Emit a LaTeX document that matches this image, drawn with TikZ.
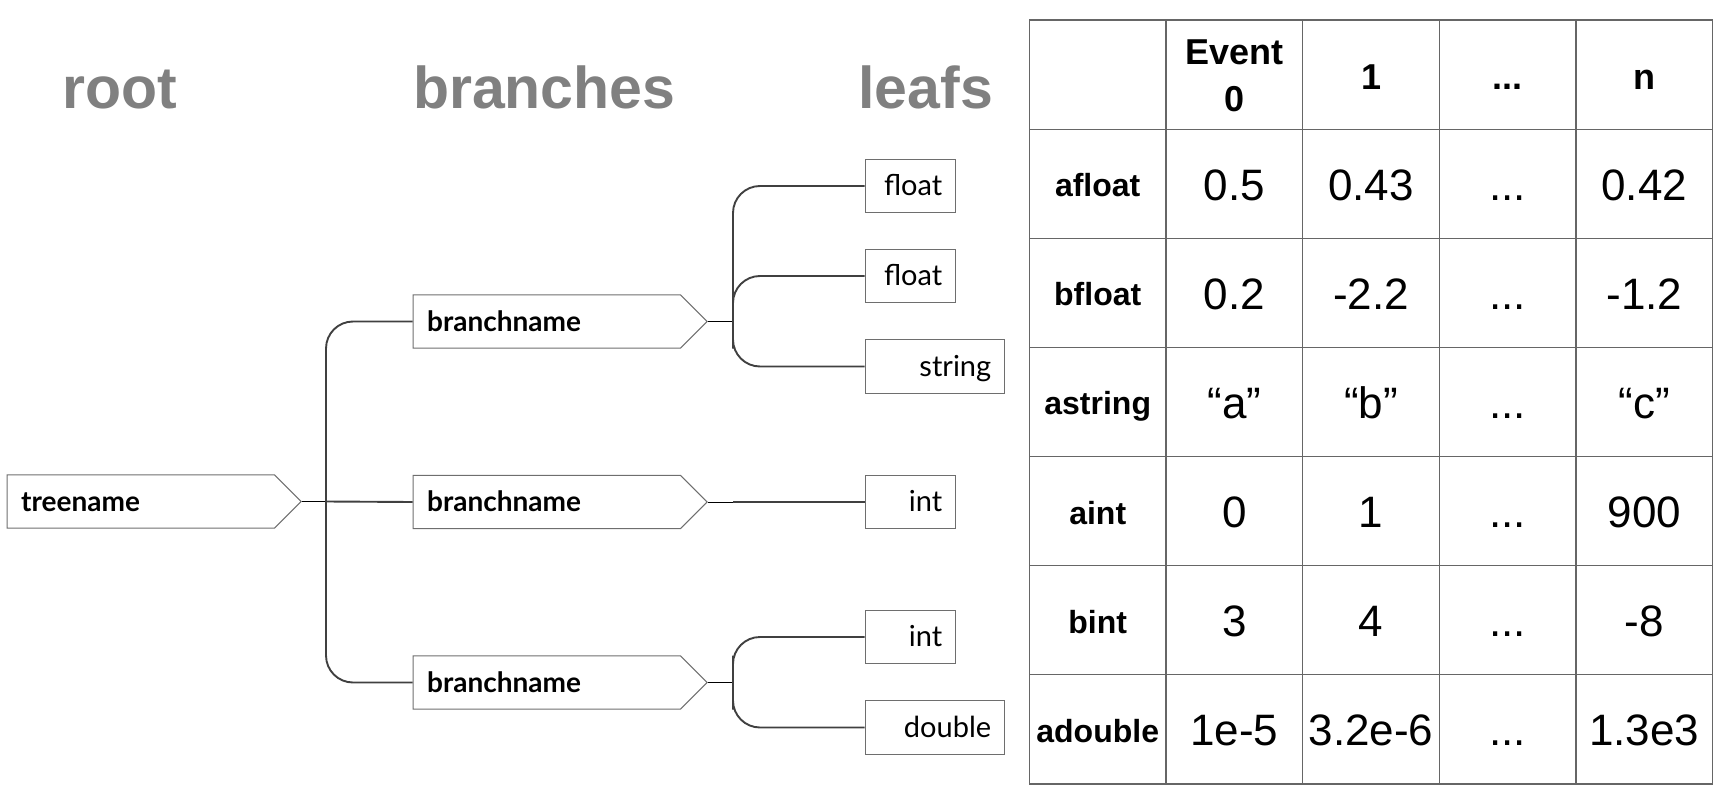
\documentclass[tikz,border=0pt]{standalone}
\usepackage{fontspec}
\setmainfont{Liberation Sans}
\newfontfamily\treefont{Lato}
\usetikzlibrary{shapes.symbols}
\definecolor{titlegray}{HTML}{808080}
\definecolor{boxgray}{HTML}{6E6E6E}
\definecolor{linkgray}{HTML}{404040}
\definecolor{gridgray}{HTML}{666666}
\tikzstyle{heading} = [text=titlegray, font=\fontsize{29.5}{32}\selectfont\bfseries, anchor=base west, inner sep=0pt]
\tikzstyle{pennant} = [signal, signal to=east, signal pointer angle=90, draw=boxgray, line width=0.5pt, anchor=west, font=\treefont\bfseries\fontsize{14}{16}\selectfont, text width=119.65pt, align=left, inner xsep=7pt, inner ysep=7.575pt, text height=10.5pt, text depth=1pt]
\tikzstyle{leaf} = [rectangle, draw=boxgray, line width=0.5pt, anchor=west, font=\treefont\fontsize{14.5}{16}\selectfont, text width=31.7pt, align=right, inner xsep=6.8pt, inner ysep=7.575pt, text height=10.5pt, text depth=1pt]
\tikzstyle{wideleaf} = [leaf, text width=56.2pt]
\tikzstyle{link} = [draw=linkgray, line width=0.95pt, rounded corners=13.5pt]
\tikzstyle{stub} = [draw=black, line width=0.5pt]
\tikzstyle{tableline} = [draw=gridgray, line width=0.6pt]
\tikzstyle{colhead} = [font=\fontsize{18}{23.35}\selectfont\bfseries, inner sep=0pt]
\tikzstyle{rowhead} = [font=\fontsize{16}{18}\selectfont\bfseries, anchor=base, inner sep=0pt]
\tikzstyle{cellval} = [font=\fontsize{22}{24}\selectfont, anchor=base, inner sep=0pt]

\begin{document}
\begin{tikzpicture}[x=0.5pt, y=-0.5pt]
    \useasboundingbox (0,0) rectangle (1724,808);
    % headings
    \node[heading] (hroot) at (62,109) {root};
    \node[heading] (hbranch) at (412.7,108.5) {branches};
    \node[heading] (hleaf) at (858,108.5) {leafs};
    % tree
    \node[pennant] (tree) at (6.7,501.5) {treename};
    \node[pennant] (br1) at (412.7,321.5) {branchname};
    \node[pennant] (br2) at (412.7,502) {branchname};
    \node[pennant] (br3) at (412.7,682.5) {branchname};
    \node[leaf] (lf1) at (864.7,186) {float};
    \node[leaf] (lf2) at (864.7,276) {float};
    \node[wideleaf] (lf3) at (864.7,366.5) {string};
    \node[leaf] (lf4) at (864.7,502) {int};
    \node[leaf] (lf5) at (864.7,637) {int};
    \node[wideleaf] (lf6) at (864.7,727.5) {double};
    \coordinate (jt) at (326,501.5);
    \coordinate (j1) at (733,321.5);
    \coordinate (j2) at (733,502);
    \coordinate (j3) at (733,682.5);
    \draw[stub] (tree.east) -- (jt);
    \draw[link] (br1.west) -| (jt) |- (br3.west);
    \draw[link] (jt) -- (br2.west);
    \draw[stub] (br1.east) -- (j1);
    \draw[stub] (br2.east) -- (j2);
    \draw[stub] (br3.east) -- (j3);
    \draw[link] (lf1.west) -| (j1) |- (lf3.west);
    \draw[link] (lf2.west) -| (j1);
    \draw[link] (j2) -- (lf4.west);
    \draw[link] (lf5.west) -| (j3) |- (lf6.west);
    % table
    \foreach \i in {0,...,5}
        \draw[tableline] ({1029.3+136.66*\i},20) -- ({1029.3+136.66*\i},784);
    \foreach \j in {0,...,7}
        \draw[tableline] (1029.3,{20+109.14*\j}) -- (1712.6,{20+109.14*\j});
    \node[colhead, align=center] (ev0) at (1234.3,76) {Event\\0};
    \node[colhead, anchor=base] (ev1) at (1371,90) {1};
    \node[colhead, anchor=base] (evdots) at (1507.7,90) {...};
    \node[colhead, anchor=base] (evn) at (1644.3,90) {n};
    \foreach \lbl/\va/\vb/\vn [count=\r] in {afloat/0.5/0.43/0.42, bfloat/0.2/-2.2/-1.2, astring/“a”/“b”/“c”, aint/0/1/900, bint/3/4/-8, adouble/1e-5/3.2e-6/1.3e3} {
        \node[rowhead] (rh\r) at (1097.7,{74.5+109.14*\r+13}) {\lbl};
        \node[cellval] (va\r) at (1234.3,{74.5+109.14*\r+16.5}) {\va};
        \node[cellval] (vb\r) at (1371,{74.5+109.14*\r+16.5}) {\vb};
        \node[cellval] (vd\r) at (1507.7,{74.5+109.14*\r+16.5}) {...};
        \node[cellval] (vn\r) at (1644.3,{74.5+109.14*\r+16.5}) {\vn};
    }
\end{tikzpicture}
\end{document}
